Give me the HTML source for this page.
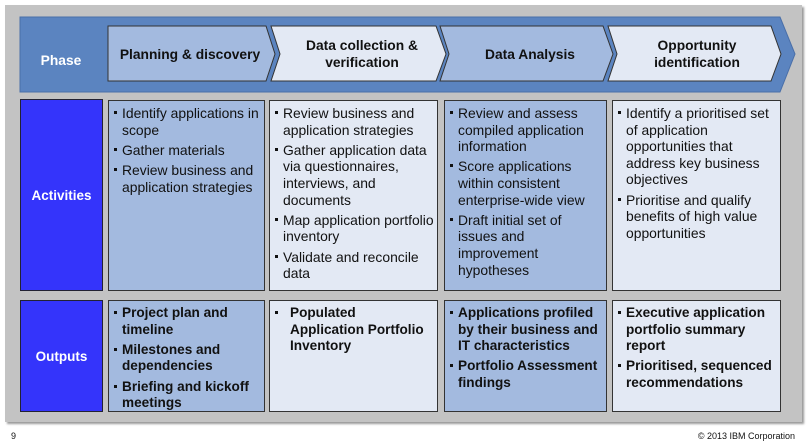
<!DOCTYPE html>
<html><head><meta charset="utf-8"><style>
body{margin:0;width:809px;height:446px;background:#fff;position:relative;overflow:hidden;font-family:"Liberation Sans",sans-serif;color:#111}
.a{position:absolute;box-sizing:border-box}
.box{border:1px solid #333;font-size:13.9px;line-height:16.6px;padding:4px 1px 0 4px}
.med{background:#a3badf}
.lt{background:#e3e9f4}
.blue{background:#3434fb;border:1px solid #223;color:#fff;font-weight:bold;font-size:13.5px;display:flex;align-items:center;justify-content:center}
ul{margin:0;padding:0;list-style:none}
li{position:relative;padding-left:9px;margin-bottom:3.6px}
li:before{content:"";position:absolute;left:1px;top:6px;width:3px;height:3px;background:#111}
.b li{font-weight:bold;font-size:13.6px}
</style></head><body>
<div class="a" style="left:5px;top:5px;width:797px;height:417px;background:#c3c3c3;box-shadow:2px 2px 2px #999"></div>
<svg class="a" style="left:0;top:0" width="809" height="100">
<polygon points="20,17 780,17 795,54 780,92 20,92" fill="#5b84c0" stroke="#4a6fa8"/>
<polygon points="108,26 266,26 275,54 266,81 108,81" fill="#a3badf" stroke="#333"/>
<polygon points="271,26 436,26 446,54 436,81 271,81 280,54" fill="#e3e9f4" stroke="#333"/>
<polygon points="440,26 603,26 613,54 603,81 440,81 449,54" fill="#a3badf" stroke="#333"/>
<polygon points="608,26 771,26 781,54 771,81 608,81 617,54" fill="#e3e9f4" stroke="#333"/>
<g font-family="Liberation Sans" font-weight="bold" font-size="13.8" fill="#111" text-anchor="middle">
<text x="61" y="65" fill="#fff">Phase</text>
<text x="190" y="59">Planning &amp; discovery</text>
<text x="362" y="50">Data collection &amp;</text>
<text x="362" y="67">verification</text>
<text x="530" y="59">Data Analysis</text>
<text x="697" y="50">Opportunity</text>
<text x="697" y="67">identification</text>
</g></svg>
<div class="a blue" style="left:20px;top:99px;width:83px;height:192px">Activities</div>
<div class="a blue" style="left:20px;top:300px;width:83px;height:112px">Outputs</div>
<div class="a box med" style="left:108px;top:100px;width:157px;height:191px;padding-right:4px"><ul>
<li>Identify applications in scope</li><li>Gather materials</li><li>Review business and application strategies</li></ul></div>
<div class="a box lt" style="left:269px;top:100px;width:169px;height:191px"><ul>
<li>Review business and application strategies</li><li>Gather application data via questionnaires, interviews, and documents</li><li>Map application portfolio inventory</li><li>Validate and reconcile data</li></ul></div>
<div class="a box med" style="left:444px;top:100px;width:163px;height:191px;padding-right:4px"><ul>
<li>Review and assess compiled application information</li><li>Score applications within consistent enterprise-wide view</li><li>Draft initial set of issues and improvement hypotheses</li></ul></div>
<div class="a box lt" style="left:612px;top:100px;width:169px;height:191px;padding-right:4px"><ul>
<li>Identify a prioritised set of application opportunities that address key business objectives</li><li>Prioritise and qualify benefits of high value opportunities</li></ul></div>
<div class="a box med b" style="left:108px;top:300px;width:157px;height:112px;overflow:hidden;padding-right:4px"><ul>
<li>Project plan and timeline</li><li>Milestones and dependencies</li><li>Briefing and kickoff meetings</li></ul></div>
<div class="a box lt b" style="left:269px;top:300px;width:169px;height:112px"><ul>
<li style="padding-left:16px;padding-right:8px">Populated Application Portfolio Inventory</li></ul></div>
<div class="a box med b" style="left:444px;top:300px;width:163px;height:112px;padding-right:4px"><ul>
<li>Applications profiled by their business and IT characteristics</li><li>Portfolio Assessment findings</li></ul></div>
<div class="a box lt b" style="left:612px;top:300px;width:169px;height:112px;padding-right:4px"><ul>
<li>Executive application portfolio summary report</li><li>Prioritised, sequenced recommendations</li></ul></div>
<div class="a" style="left:11px;top:431px;font-size:9px">9</div>
<div class="a" style="right:14px;top:431px;font-size:9px">© 2013 IBM Corporation</div>
</body></html>
